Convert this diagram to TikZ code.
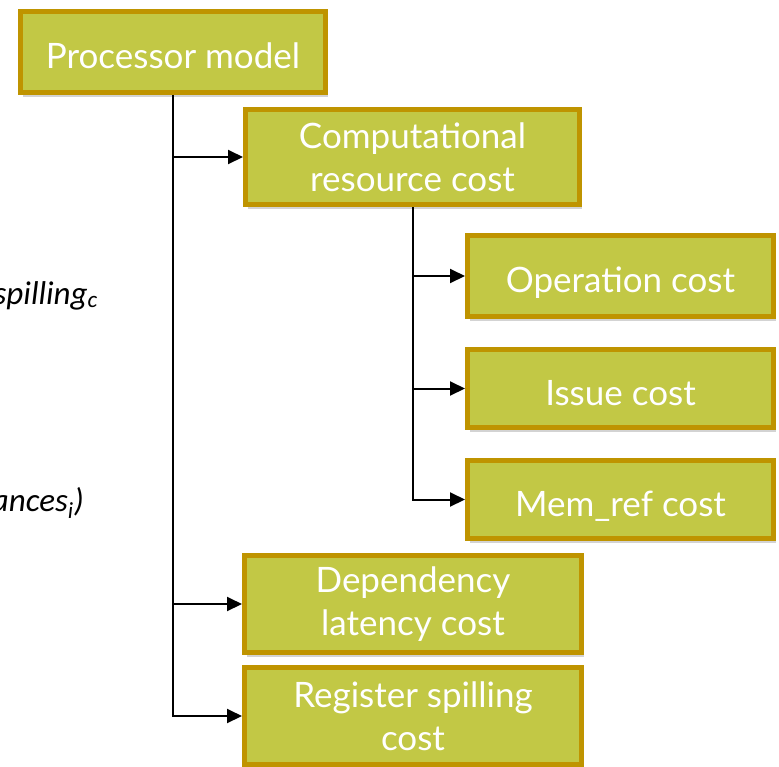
\documentclass[tikz,border=0pt]{standalone}
\usepackage{fontspec}
\setmainfont{Lato}
\newfontfamily\notefont{Carlito}
\usetikzlibrary{arrows.meta,shadows}
\definecolor{boxfill}{RGB}{194,200,69}
\definecolor{boxline}{RGB}{191,148,0}
\begin{document}
\begin{tikzpicture}[x=1pt,y=-1pt]

    \tikzset{
      costbox/.style={
        draw=boxline,
        line width=5pt,
        fill=boxfill,
        text=white,
        align=center,
        font=\fontsize{35}{43}\selectfont,
        inner sep=0pt,
        drop shadow={opacity=0.35,shadow xshift=2pt,shadow yshift=-4pt},
      },
      oneline/.style={
        costbox,
        text height=33pt,
        text depth=0pt,
      },
      link/.style={
        line width=2pt,
        -{Triangle[length=15pt,width=14pt]},
      },
      note/.style={
        anchor=base east,
        inner sep=0pt,
        font=\notefont\itshape\fontsize{33}{37}\selectfont,
      },
    }
    \useasboundingbox (0,0) rectangle (779,766);
    \clip (0,0) rectangle (779,766);

	\node[oneline,minimum width=305pt,minimum height=81pt] (pm) at (173,52) {Processor model};
	\node[costbox,minimum width=334pt,minimum height=95pt] (comp) at (412.5,157) {Computational\\resource cost};
	\node[oneline,minimum width=306pt,minimum height=81pt] (op) at (620.5,276) {Operation cost};
	\node[oneline,minimum width=306pt,minimum height=78pt] (issue) at (620.5,388.5) {Issue cost};
	\node[oneline,minimum width=306pt,minimum height=78pt] (mem) at (620.5,499.5) {Mem\_ref cost};
	\node[costbox,minimum width=337pt,minimum height=97pt] (dep) at (413,604) {Dependency\\latency cost};
	\node[costbox,minimum width=337pt,minimum height=97pt] (reg) at (413,716) {Register spilling\\cost};

	\draw[link] (pm.south) |- (comp.west);
	\draw[link] (pm.south) |- (dep.west);
	\draw[link] (pm.south) |- (reg.west);
	\draw[link] (comp.south) |- (op.west);
	\draw[link] (comp.south) |- (issue.west);
	\draw[link] (comp.south) |- (mem.west);

	\node[note] (spill) at (98,304) {spilling\textsubscript{c}};
	\node[note] (inst) at (84,511) {ances\textsubscript{i})};

\end{tikzpicture}
\end{document}
